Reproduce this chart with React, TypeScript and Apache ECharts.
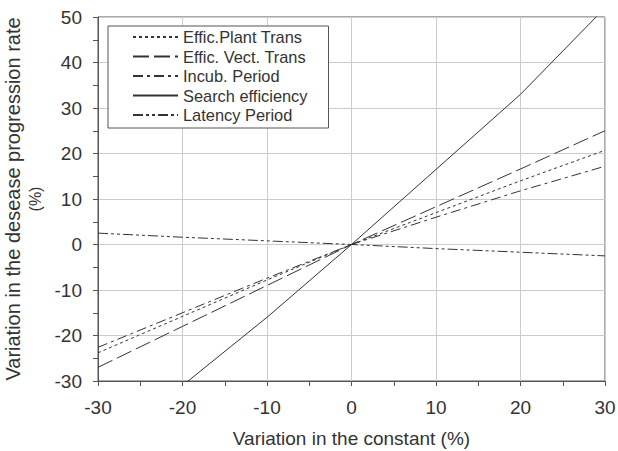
import React, { useEffect, useRef } from "react";
import * as echarts from "echarts";

const xValues = [-30, -20, -10, 0, 10, 20, 30];
const plantTrans = [-23.8, -15.8, -7.8, 0, 7, 14, 20.7];
const vectTrans = [-27, -18, -9, 0, 8.3, 16.6, 25];
const incubPeriod = [-22.6, -15, -7.4, 0, 6, 11.8, 17.2];
const searchEff = [-45, -31, -16, 0, 16.5, 33, 52];
const latencyPeriod = [2.5, 1.6, 0.8, 0, -0.9, -1.7, -2.5];

const seriesNames = [
  "Effic.Plant Trans",
  "Effic. Vect. Trans",
  "Incub. Period",
  "Search efficiency",
  "Latency Period",
];

const yTitle = "Variation in the desease progression rate";
const yTitleUnit = "(%)";
const xTitle = "Variation in the constant (%)";

export default function App() {
  const ref = useRef<HTMLDivElement>(null);
  useEffect(() => {
    if (!ref.current) return;
    const chart = echarts.init(ref.current, null, { renderer: "svg" });
    const pair = (ys: number[]) => xValues.map((x, i) => [x, ys[i]]);
    const lineColor = "#333";
    const mk = (name: string, ys: number[], type: any) => ({
      name,
      type: "line",
      data: pair(ys),
      symbol: "none",
      clip: true,
      lineStyle: { color: lineColor, width: 1, type },
      itemStyle: { color: lineColor },
    });
    const axisColor = "#555";
    const font = "Liberation Sans, Arial, sans-serif";
    chart.setOption({
      animation: false,
      textStyle: { fontFamily: font },
      grid: {
        left: 98,
        right: 13,
        top: 17,
        bottom: 70,
        show: true,
        containLabel: false,
        outerBoundsMode: "none",
        borderColor: axisColor,
        borderWidth: 1,
      },
      legend: {
        orient: "vertical",
        left: 108,
        top: 26,
        itemWidth: 45,
        itemHeight: 14,
        itemGap: 3.5,
        padding: [3, 21, 5, 24],
        borderColor: "#555",
        borderWidth: 1,
        backgroundColor: "#fff",
        itemStyle: { opacity: 0 },
        textStyle: {
          fontSize: 16.4,
          lineHeight: 14,
          color: "#333",
          fontFamily: font,
        },
        data: seriesNames,
      },
      xAxis: {
        type: "value",
        min: -30,
        max: 30,
        interval: 10,
        name: xTitle,
        nameLocation: "middle",
        nameGap: 48,
        nameTextStyle: { fontSize: 19, color: "#333", fontFamily: font },
        axisLine: { show: true, onZero: false, lineStyle: { color: axisColor } },
        axisTick: { show: true, length: 5, lineStyle: { color: axisColor } },
        minorTick: { show: true, splitNumber: 2, length: 5, lineStyle: { color: axisColor } },
        axisLabel: { fontSize: 19, color: "#333", margin: 17, fontFamily: font },
        splitLine: { show: true, lineStyle: { color: "#ccc" } },
      },
      yAxis: {
        type: "value",
        min: -30,
        max: 50,
        interval: 10,
        name: "{a|" + yTitle + "}\n{b|" + yTitleUnit + "}",
        nameLocation: "middle",
        nameGap: 39,
        nameTextStyle: {
          color: "#333",
          fontFamily: font,
          align: "center",
          rich: {
            a: { fontSize: 20, lineHeight: 24, color: "#333", fontFamily: font, align: "center" },
            b: { fontSize: 16, lineHeight: 21, color: "#333", fontFamily: font, align: "center" },
          },
        },
        axisLine: { show: true, onZero: false, lineStyle: { color: axisColor } },
        axisTick: { show: true, length: 5, lineStyle: { color: axisColor } },
        minorTick: { show: true, splitNumber: 2, length: 5, lineStyle: { color: axisColor } },
        axisLabel: { fontSize: 19, color: "#333", margin: 16, fontFamily: font },
        splitLine: { show: true, lineStyle: { color: "#ccc" } },
      },
      series: [
        mk(seriesNames[0], plantTrans, [3, 3]),
        mk(seriesNames[1], vectTrans, [16, 5]),
        mk(seriesNames[2], incubPeriod, [10, 4, 3, 4]),
        mk(seriesNames[3], searchEff, "solid"),
        mk(seriesNames[4], latencyPeriod, [10, 3, 3, 3, 3, 3]),
      ],
    });
    return () => chart.dispose();
  }, []);
  return (
    <div
      ref={ref}
      style={{ width: 618, height: 451, position: "absolute", left: 0, top: 0 }}
    />
  );
}
